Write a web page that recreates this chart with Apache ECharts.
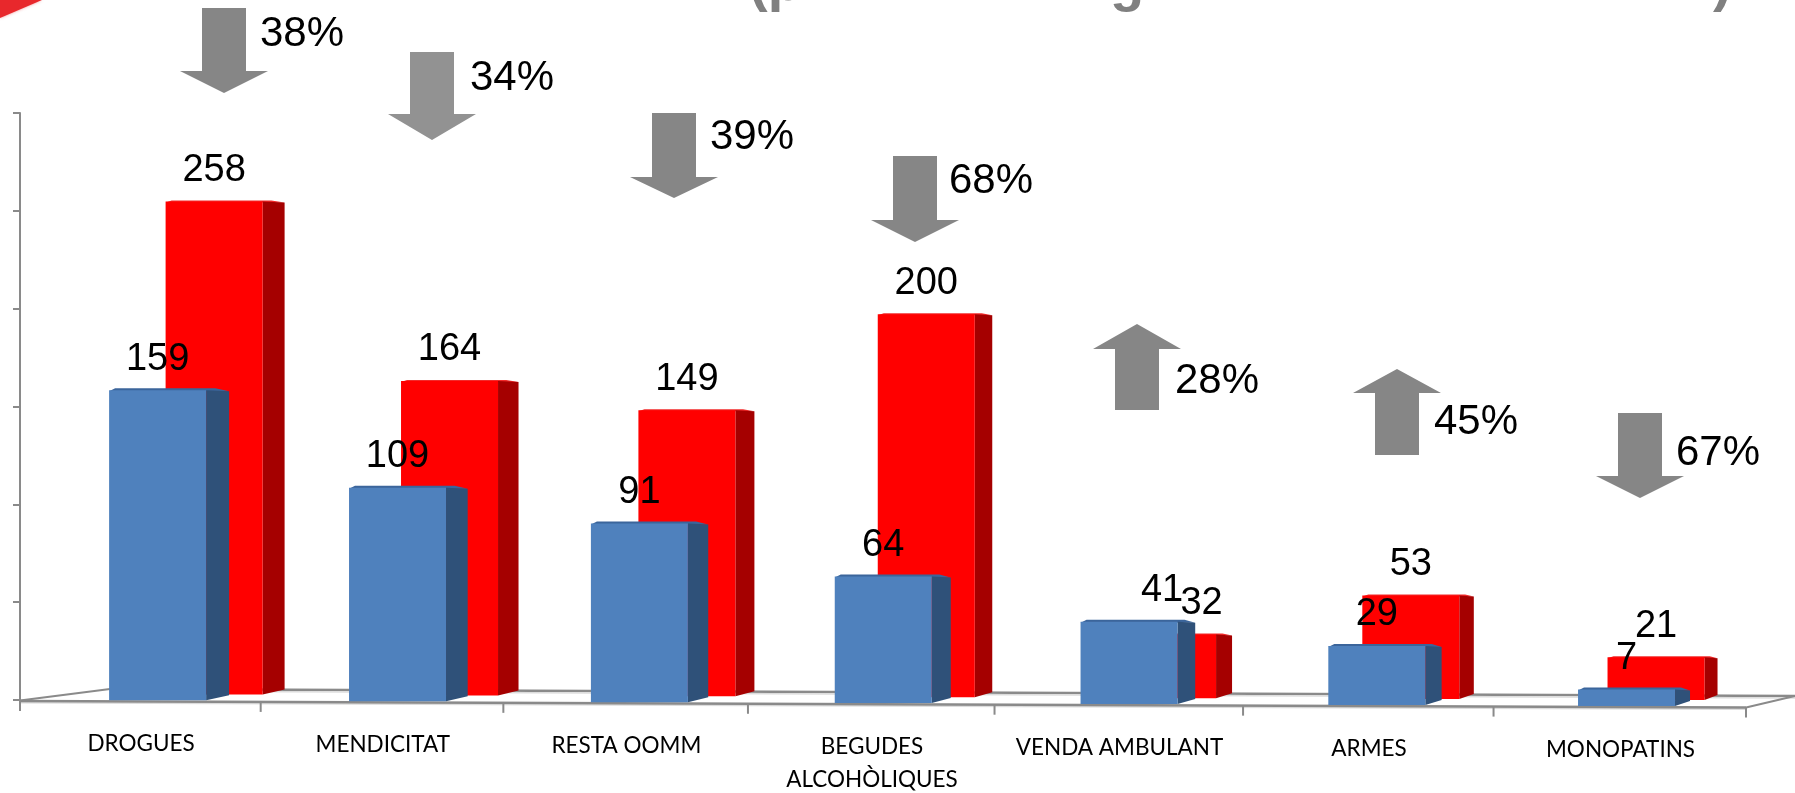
<!DOCTYPE html>
<html>
<head>
<meta charset="utf-8">
<style>html,body{margin:0;padding:0;background:#fff;overflow:hidden}#c{width:1795px;height:793px}</style>
<script src="https://cdn.jsdelivr.net/npm/echarts@6/dist/echarts.min.js"></script>
</head>
<body>
<div id="c"></div>
<script>
const categories = ['DROGUES', 'MENDICITAT', 'RESTA OOMM', 'BEGUDES\nALCOHÒLIQUES', 'VENDA AMBULANT', 'ARMES', 'MONOPATINS'];
const blueValues = [159, 109, 91, 64, 41, 29, 7];
const redValues = [258, 164, 149, 200, 32, 53, 21];
const changePct = [38, 34, 39, 68, 28, 45, 67];
const changeDir = ['down', 'down', 'down', 'down', 'up', 'up', 'down'];

/* ---- layout, not data ---- */
const LEFT = 20, WIDTH = 1726, TOP = 113, HEIGHT = 587;
const ARROWS = [
  {cx: 224, a: 8, b: 71, c: 93, tx: 302, ty: 34, col: '#868686'},
  {cx: 432, a: 52, b: 114, c: 140, tx: 512, ty: 78, col: '#929292'},
  {cx: 674, a: 113, b: 177, c: 198, tx: 752, ty: 137, col: '#868686'},
  {cx: 915, a: 156, b: 220, c: 242, tx: 991, ty: 181, col: '#868686'},
  {cx: 1137, a: 410, b: 349, c: 324, tx: 1217, ty: 381, col: '#868686'},
  {cx: 1397, a: 455, b: 393, c: 369, tx: 1476, ty: 422, col: '#868686'},
  {cx: 1640, a: 413, b: 476, c: 498, tx: 1718, ty: 453, col: '#868686'}
];
const LABEL_NUDGE = {blue: {4: 33}, red: {4: 34}};
const warp = e => { const s = e / 7; return -48 * s * (1 - s); };
const floorY = x => 700 + 0.0038 * (x - LEFT);

function centre(api, i) {
  return api.coord([i, 0])[0] + warp(i + 0.5);
}

function bar3d(kind) {
  const front = kind === 'blue' ? '#4F81BD' : '#FF0000';
  const side = kind === 'blue' ? '#2F5179' : '#A50000';
  const topFace = kind === 'blue' ? '#3B659B' : '#F22A2A';
  const baseUp = kind === 'blue' ? 0 : 6;
  return function (params, api) {
    const i = api.value(0), v = api.value(1), t = i / 6;
    const c = centre(api, i);
    const off = kind === 'blue' ? 17.5 - 10.5 * t : 74 - 37.5 * t;
    const sw = kind === 'blue' ? 23 - 8 * t : 22 - 9 * t;
    const w = 97;
    const x0 = c + off - w / 2, x1 = x0 + w;
    const h = api.coord([i, 0])[1] - api.coord([i, v])[1] + 3;
    const base = floorY(x0) - baseUp;
    const top = base - h;
    const nudge = LABEL_NUDGE[kind][i] || 0;
    const lift = kind === 'blue' ? 2 : 1;
    return {
      type: 'group',
      children: [
        {type: 'polygon', shape: {points: [[x0 + 6, top - lift], [x1 + sw * 0.4, top - lift], [x1 + sw, top + 1], [x1, top + 1], [x0, top + 1]]}, style: {fill: topFace}},
        {type: 'polygon', shape: {points: [[x1, top], [x1 + sw, top + 1], [x1 + sw, base - 5], [x1, base]]}, style: {fill: side}},
        {type: 'rect', shape: {x: x0, y: top, width: w, height: h}, style: {fill: front}},
        {type: 'text', z2: 50, style: {text: String(v), x: x0 + w / 2 + nudge, y: top - 31, align: 'center', verticalAlign: 'middle', font: '38px "Liberation Sans"', fill: '#000'}}
      ]
    };
  };
}

function floorAndLabels(params, api) {
  const i = api.value(0);
  const band = api.size([1, 0])[0];
  const edge = e => api.coord([0, 0])[0] - band / 2 + e * band + warp(e);
  const kids = [];
  const line = (x1, y1, x2, y2, col, lw) => kids.push({type: 'line', shape: {x1, y1, x2, y2}, style: {stroke: col, lineWidth: lw}});
  if (i === 0) {
    const xa = edge(0), xb = edge(7);
    line(xa, floorY(xa) + 2.5, xb, floorY(xb) + 2.5, '#dcdcdc', 2);
    line(xa, floorY(xa) + 1, xb, floorY(xb) + 1, '#8a8a8a', 2.5);
    line(xa, floorY(xa) + 0.5, 110, 689, '#8a8a8a', 2);
    line(110, 689, 1795, 696, '#8a8a8a', 2.5);
    line(110, 691, 1795, 698, '#dcdcdc', 1.5);
    line(xb, floorY(xb) + 1, 1795, 696, '#8a8a8a', 2);
    line(xb, floorY(xb) + 1, xb, floorY(xb) + 11, '#8a8a8a', 2);
  }
  const xe = edge(i);
  line(xe, floorY(xe) + 1, xe, floorY(xe) + 11, '#8a8a8a', 2);
  const c = centre(api, i);
  kids.push({type: 'text', style: {text: categories[i], x: c + 1, y: floorY(c) + 27, align: 'center', verticalAlign: 'top', font: '22.5px Lato', lineHeight: 33, fill: '#000'}});
  return {type: 'group', children: kids};
}

function arrowsRender(params, api) {
  const i = api.value(0), a = ARROWS[i], pct = api.value(1);
  const s = 22, hw = 44;
  const pts = [[a.cx - s, a.a], [a.cx + s, a.a], [a.cx + s, a.b], [a.cx + hw, a.b], [a.cx, a.c], [a.cx - hw, a.b], [a.cx - s, a.b]];
  return {
    type: 'group',
    children: [
      {type: 'polygon', shape: {points: pts}, style: {fill: a.col}},
      {type: 'text', style: {text: pct + '%', x: a.tx, y: a.ty, align: 'center', verticalAlign: 'middle', font: '42px "Liberation Sans"', fill: '#000'}}
    ]
  };
}

const chart = echarts.init(document.getElementById('c'), null, {renderer: 'canvas', width: 1795, height: 793});
const idx = categories.map((_, i) => i);
chart.setOption({
  animation: false,
  backgroundColor: '#fff',
  grid: {left: LEFT, top: TOP, width: WIDTH, height: HEIGHT, containLabel: false},
  xAxis: {type: 'category', data: categories, show: false},
  yAxis: [
    {type: 'value', min: 0, max: 300, interval: 50, axisLine: {show: true, lineStyle: {color: '#8a8a8a', width: 2}}, axisTick: {show: true, length: 7, lineStyle: {color: '#8a8a8a', width: 2}}, axisLabel: {show: false}, splitLine: {show: false}},
    {type: 'value', min: 0, max: 309, show: false, splitLine: {show: false}},
    {type: 'value', min: 0, max: 304, show: false, splitLine: {show: false}}
  ],
  series: [
    {type: 'custom', name: 'floor', z: 1, clip: false, renderItem: floorAndLabels, data: idx.map(i => [i, 0]), silent: true},
    {type: 'custom', name: 'red', yAxisIndex: 1, z: 2, clip: false, renderItem: bar3d('red'), data: redValues.map((v, i) => [i, v]), encode: {x: 0, y: 1}},
    {type: 'custom', name: 'blue', yAxisIndex: 2, z: 3, clip: false, renderItem: bar3d('blue'), data: blueValues.map((v, i) => [i, v]), encode: {x: 0, y: 1}},
    {type: 'custom', name: 'change', z: 4, clip: false, renderItem: arrowsRender, data: changePct.map((v, i) => [i, v, changeDir[i]]), silent: true}
  ],
  graphic: [
    {type: 'polygon', shape: {points: [[0, 0], [42, 0], [0, 18]]}, style: {fill: '#E8282C', shadowBlur: 3, shadowColor: 'rgba(232,40,44,0.5)'}, silent: true},
    {type: 'text', x: 749, y: 0, style: {text: '(p', font: 'bold 56px "Liberation Sans"', fill: '#808080', verticalAlign: 'bottom', y: 13}, silent: true},
    {type: 'text', x: 1110, y: 0, style: {text: 'g', font: 'bold 56px "Liberation Sans"', fill: '#808080', verticalAlign: 'bottom', y: 13}, silent: true},
    {type: 'text', x: 1713, y: 0, style: {text: ')', font: 'bold 56px "Liberation Sans"', fill: '#808080', verticalAlign: 'bottom', y: 13}, silent: true}
  ]
});
</script>
</body>
</html>
